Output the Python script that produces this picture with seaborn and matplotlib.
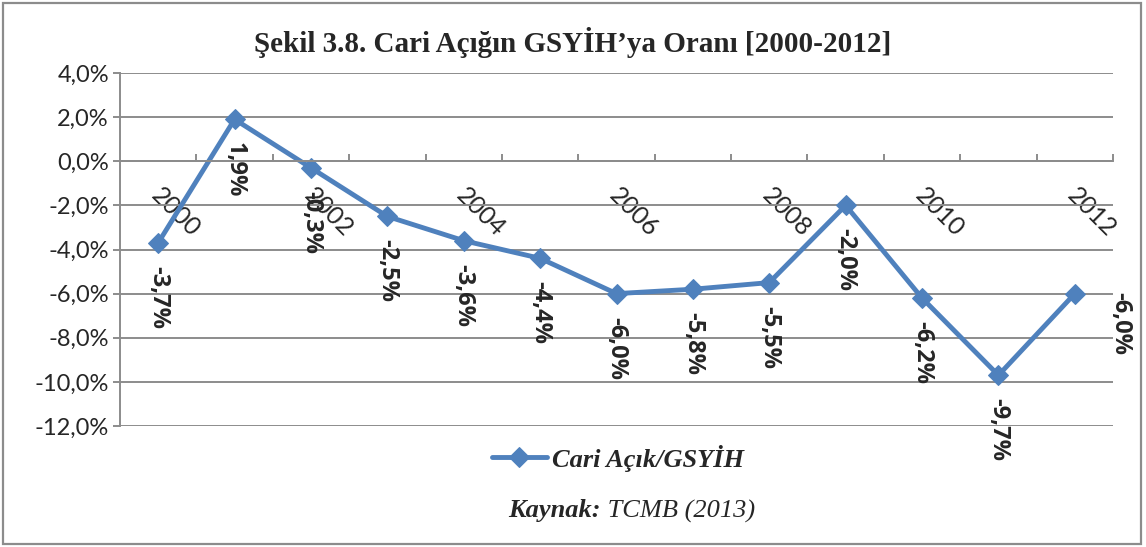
import matplotlib
matplotlib.use("Agg")
import matplotlib.pyplot as plt
from matplotlib.patches import Rectangle
from matplotlib.transforms import ScaledTranslation
import seaborn as sns
import pandas as pd

# data
years = [2000, 2001, 2002, 2003, 2004, 2005, 2006, 2007, 2008, 2009, 2010, 2011, 2012]
values = [-3.7, 1.9, -0.3, -2.5, -3.6, -4.4, -6.0, -5.8, -5.5, -2.0, -6.2, -9.7, -6.0]
year_labels = ["2000", "", "2002", "", "2004", "", "2006", "", "2008", "", "2010", "", "2012"]
y_ticks = [4, 2, 0, -2, -4, -6, -8, -10, -12]

title = "Şekil 3.8. Cari Açığın GSYİH’ya Oranı [2000-2012]"
series_name = "Cari Açık/GSYİH"

blue = "#4F81BD"
gray = "#8C8C8C"

sns.set_style("white")
plt.rcParams["font.family"] = ["Lato", "DejaVu Sans"]

df = pd.DataFrame({"pos": range(len(years)), "value": values})

fig = plt.figure(figsize=(11.46, 5.47), dpi=100)
ax = fig.add_axes([120 / 1146, 1 - 426 / 547, (1113 - 120) / 1146, (426 - 73) / 547])

sns.lineplot(data=df, x="pos", y="value", ax=ax, color=blue, lw=3.5,
             marker="D", markersize=10, markeredgecolor=blue, label=series_name)

ax.set_xlim(-0.5, 12.5)
ax.set_ylim(-12, 4)
ax.set_xlabel("")
ax.set_ylabel("")

# y axis
ax.set_yticks(y_ticks)
ax.set_yticklabels([f"{v:.1f}%".replace(".", ",") for v in y_ticks], fontsize=17)
ax.grid(axis="y", color=gray, lw=1.4)
ax.set_axisbelow(True)
ax.tick_params(axis="y", direction="out", length=5, width=1.4, color=gray, pad=3, left=True)

# x axis crosses at zero
for s in ["top", "right"]:
    ax.spines[s].set_visible(False)
ax.spines["left"].set_color(gray)
ax.spines["left"].set_linewidth(1.4)
ax.spines["bottom"].set_position(("data", 0))
ax.spines["bottom"].set_color(gray)
ax.spines["bottom"].set_linewidth(1.4)

ax.set_xticks(range(len(years)))
ax.set_xticklabels(year_labels, rotation=-45, ha="left", va="top",
                   rotation_mode="anchor", fontsize=18)
ax.tick_params(axis="x", which="major", length=0, pad=16)
shift = ScaledTranslation(5 / 100, 0, fig.dpi_scale_trans)
for lab in ax.get_xticklabels():
    lab.set_transform(lab.get_transform() + shift)
ax.set_xticks([i + 0.5 for i in range(len(years))], minor=True)
ax.tick_params(axis="x", which="minor", direction="in", length=5, width=1.4,
               color=gray, bottom=True)

# data labels
for i, v in enumerate(values):
    txt = f"{v:.1f}%".replace(".", ",")
    if i == len(values) - 1:
        ax.annotate(txt, (i, v), xytext=(33, 2), textcoords="offset pixels",
                    rotation=-90, ha="left", va="top", fontsize=17,
                    family="Open Sans", fontweight="bold")
    else:
        ax.annotate(txt, (i, v), xytext=(0, -23), textcoords="offset pixels",
                    rotation=-90, ha="center", va="top", fontsize=17,
                    family="Open Sans", fontweight="bold")

# legend
leg = ax.legend(loc="center", bbox_to_anchor=(618 / 1146, 1 - 458 / 547),
                bbox_transform=fig.transFigure, frameon=False, handlelength=2.1,
                handletextpad=0.2,
                prop={"family": "Liberation Serif", "weight": "bold",
                      "style": "italic", "size": 19})

fig.text(573 / 1146, 1 - 42 / 547, title, ha="center", va="center",
         family="Liberation Serif", fontweight="bold", fontsize=21)

t1 = fig.text(0, 0, "Kaynak:", family="Liberation Serif", style="italic",
              fontweight="bold", fontsize=19, va="center")
t2 = fig.text(0, 0, " TCMB (2013)", family="Liberation Serif", style="italic",
              fontsize=19, va="center")
fig.canvas.draw()
r = fig.canvas.get_renderer()
w1 = t1.get_window_extent(r).width
w2 = t2.get_window_extent(r).width
x0 = 632 - (w1 + w2) / 2
t1.set_position((x0 / 1146, 1 - 511 / 547))
t2.set_position(((x0 + w1) / 1146, 1 - 511 / 547))

fig.patches.append(Rectangle((3 / 1146, 3 / 547), 1138 / 1146, 541 / 547,
                             transform=fig.transFigure, fill=False,
                             edgecolor=gray, lw=1.6))

fig.savefig("out.png", dpi=100)
